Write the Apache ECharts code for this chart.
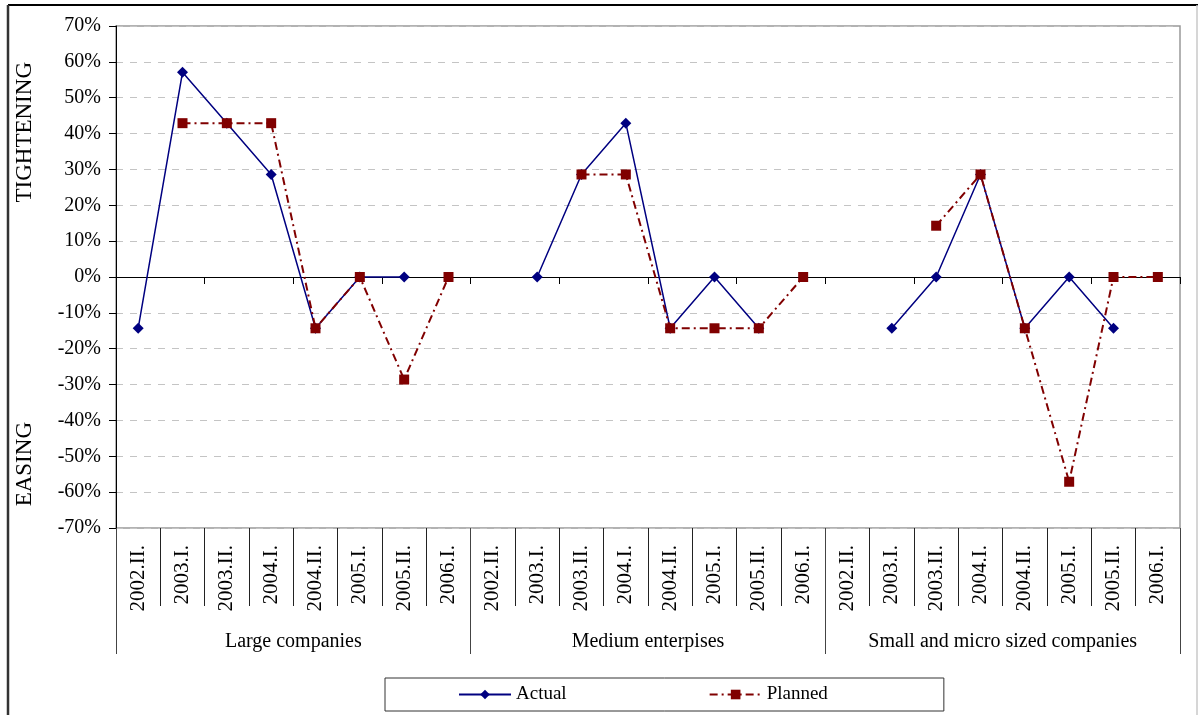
<!DOCTYPE html>
<html>
<head>
<meta charset="utf-8">
<script src="https://cdn.jsdelivr.net/npm/echarts@6/dist/echarts.min.js"></script>
<style>
  html, body { margin: 0; padding: 0; background: #fff; }
  #chart { width: 1200px; height: 715px; }
</style>
</head>
<body>
<div id="chart"></div>
<script>
// Survey periods repeated for each company-size group
const periods = ['2002.II.', '2003.I.', '2003.II.', '2004.I.', '2004.II.', '2005.I.', '2005.II.', '2006.I.'];
const groups = ['Large companies', 'Medium enterpises', 'Small and micro sized companies'];

// Net share of banks tightening (+) or easing (-) credit standards, in %
const actualLarge  = [-14.3, 57.1, 42.9, 28.6, -14.3, 0, 0, null];
const actualMedium = [null, 0, 28.6, 42.9, -14.3, 0, -14.3, null];
const actualSmall  = [null, -14.3, 0, 28.6, -14.3, 0, -14.3, null];

const plannedLarge  = [null, 42.9, 42.9, 42.9, -14.3, 0, -28.6, 0];
const plannedMedium = [null, null, 28.6, 28.6, -14.3, -14.3, -14.3, 0];
const plannedSmall  = [null, null, 14.3, 28.6, -14.3, -57.1, 0, 0];

const yMin = -70, yMax = 70, yStep = 10;

const categories = [].concat(periods, periods, periods);
const actual = [].concat(actualLarge, actualMedium, actualSmall);
const planned = [].concat(plannedLarge, plannedMedium, plannedSmall);

const FONT = '"Liberation Serif", "DejaVu Serif", serif';
const chart = echarts.init(document.getElementById('chart'), null, { renderer: 'canvas' });

chart.setOption({
  animation: false,
  backgroundColor: '#fff',
  textStyle: { fontFamily: FONT, color: '#000' },
  grid: {
    left: 116, right: 20, top: 26, bottom: 187,
    show: true, borderColor: '#999', borderWidth: 1.5, backgroundColor: 'transparent'
  },
  legend: {
    left: 385, top: 678,
    padding: [7, 116, 7, 73],
    itemGap: 142,
    itemWidth: 52, itemHeight: 12,
    borderColor: '#333', borderWidth: 1,
    textStyle: { fontFamily: FONT, fontSize: 19, color: '#000' },
    data: ['Actual', 'Planned']
  },
  xAxis: [
    { // zero line with small ticks between periods
      type: 'category', data: categories, position: 'bottom',
      boundaryGap: true,
      axisLine: { onZero: true, lineStyle: { color: '#000', width: 1 } },
      axisTick: { show: true, length: 7, lineStyle: { color: '#000' } },
      axisLabel: { show: false },
      splitLine: { show: false }
    },
    { // period labels with separators
      type: 'category', data: categories, position: 'bottom',
      boundaryGap: true,
      axisLine: { onZero: false, show: false },
      axisTick: { show: true, length: 78, lineStyle: { color: '#222' } },
      axisLabel: { rotate: 90, margin: 17, fontSize: 21, fontFamily: FONT, color: '#000', interval: 0 },
      splitLine: { show: false }
    },
    { // company-size group labels
      type: 'category', data: groups, position: 'bottom',
      boundaryGap: true,
      axisLine: { onZero: false, show: false },
      axisTick: { show: true, length: 126, lineStyle: { color: '#444' } },
      axisLabel: { margin: 104, fontSize: 20, fontFamily: FONT, color: '#000', interval: 0 },
      splitLine: { show: false }
    }
  ],
  yAxis: {
    type: 'value', min: yMin, max: yMax, interval: yStep,
    axisLine: { show: true, onZero: false, lineStyle: { color: '#000', width: 1 } },
    axisTick: { show: true, length: 7, lineStyle: { color: '#000' } },
    axisLabel: { formatter: '{value}%', fontSize: 20, fontFamily: FONT, color: '#000', margin: 15 },
    splitLine: { show: true, lineStyle: { color: '#c4c4c4', type: [7, 7], width: 1 } }
  },
  graphic: [
    { type: 'line', shape: { x1: 8, y1: 5, x2: 1198, y2: 5 }, style: { stroke: '#000', lineWidth: 2 }, silent: true },
    { type: 'line', shape: { x1: 8, y1: 5, x2: 8, y2: 715 }, style: { stroke: '#333', lineWidth: 2.5 }, silent: true },
    { type: 'line', shape: { x1: 1197, y1: 5, x2: 1197, y2: 715 }, style: { stroke: '#c8c8c8', lineWidth: 1.5 }, silent: true },
    {
      type: 'text', left: 13, top: 62, rotation: Math.PI / 2, silent: true,
      style: { text: 'TIGHTENING', font: '23px ' + FONT, fill: '#000' }
    },
    {
      type: 'text', left: 13, top: 422, rotation: Math.PI / 2, silent: true,
      style: { text: 'EASING', font: '23px ' + FONT, fill: '#000' }
    }
  ],
  series: [
    {
      name: 'Actual', type: 'line', xAxisIndex: 0, data: actual,
      connectNulls: false,
      symbol: 'diamond', symbolSize: 11,
      lineStyle: { color: '#000080', width: 1.5 },
      itemStyle: { color: '#000080' },
      z: 3
    },
    {
      name: 'Planned', type: 'line', xAxisIndex: 0, data: planned,
      connectNulls: false,
      symbol: 'rect', symbolSize: 10,
      lineStyle: { color: '#800000', width: 2, type: [8, 4, 2, 4] },
      itemStyle: { color: '#800000' },
      z: 4
    }
  ]
});
</script>
</body>
</html>
